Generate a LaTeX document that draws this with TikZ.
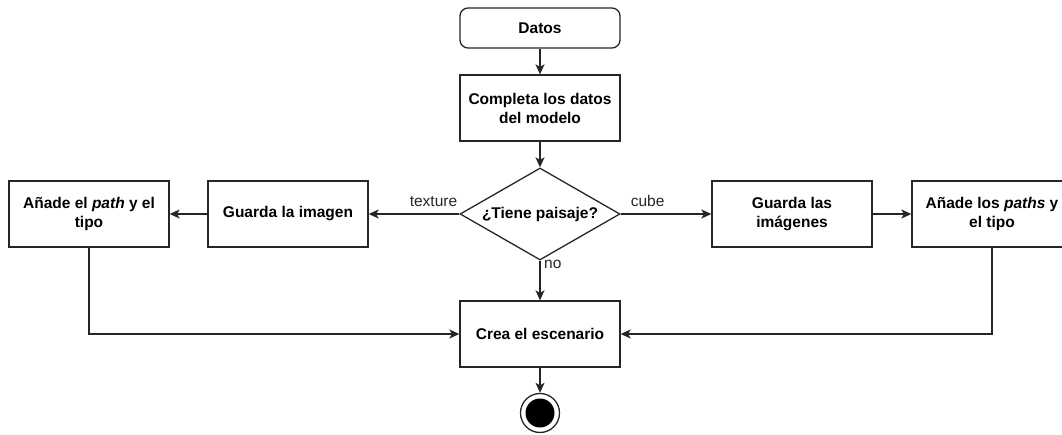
\documentclass[tikz,border=0pt]{standalone}
\usepackage{fontspec}
\setmainfont{Liberation Sans}
\usetikzlibrary{shapes.geometric,arrows.meta}
\begin{document}
\begin{tikzpicture}[x=1pt,y=-1pt,
  line/.style={draw=black!85, line width=1.3pt},
  arr/.style={line, -{Stealth[length=10pt,width=9pt,inset=2.5pt]}},
  box/.style={line, fill=white, minimum width=160pt, minimum height=66pt,
    inner sep=0pt, align=center, font=\bfseries\fontsize{15.5}{19}\selectfont},
  startbox/.style={box, rounded corners=8pt, minimum height=40pt},
  decision/.style={box, diamond, minimum width=160pt, minimum height=92pt,
    shape aspect=1.74},
  lab/.style={font=\fontsize{15.5}{19}\selectfont, inner sep=0pt, text=black!85}
]
\useasboundingbox (0,0) rectangle (1062,435);
\clip (0,0) rectangle (1062,435);

% activity nodes
\node[startbox] (datos) at (540,28) {Datos};
\node[box] (completa) at (540,108) {Completa los datos\\del modelo};
\node[decision] (dia) at (540,214) {¿Tiene paisaje?};
\node[box] (guarda1) at (288,214) {Guarda la imagen};
\node[box] (anade1) at (89,214) {Añade el \textit{path} y el\\tipo};
\node[box] (guarda2) at (792,214) {Guarda las\\imágenes};
\node[box] (anade2) at (992,214) {Añade los \textit{paths} y\\el tipo};
\node[box] (crea) at (540,334) {Crea el escenario};

% final state
\node[circle, line, fill=white, minimum size=39pt, inner sep=0pt] (fin) at (540,413) {};
\node[circle, fill=black, minimum size=29pt, inner sep=0pt] (finin) at (fin.center) {};

% flow
\draw[arr] (datos) -- (completa);
\draw[arr] (completa) -- (dia);
\draw[arr] (dia.west) -- (guarda1);
\draw[arr] (guarda1) -- (anade1);
\draw[arr] (dia.east) -- (guarda2);
\draw[arr] (guarda2) -- (anade2);
\draw[arr] (dia.south) -- (crea);
\draw[arr] (anade1.south) |- (crea.west);
\draw[arr] (anade2.south) |- (crea.east);
\draw[arr] (crea) -- (fin);

% branch labels
\node[lab, anchor=base east] at ([xshift=-2pt,yshift=7pt]dia.west) {texture};
\node[lab, anchor=base west] at ([xshift=10pt,yshift=7pt]dia.east) {cube};
\node[lab, anchor=base west] at ([xshift=4pt,yshift=-8pt]dia.south) {no};
\end{tikzpicture}
\end{document}
